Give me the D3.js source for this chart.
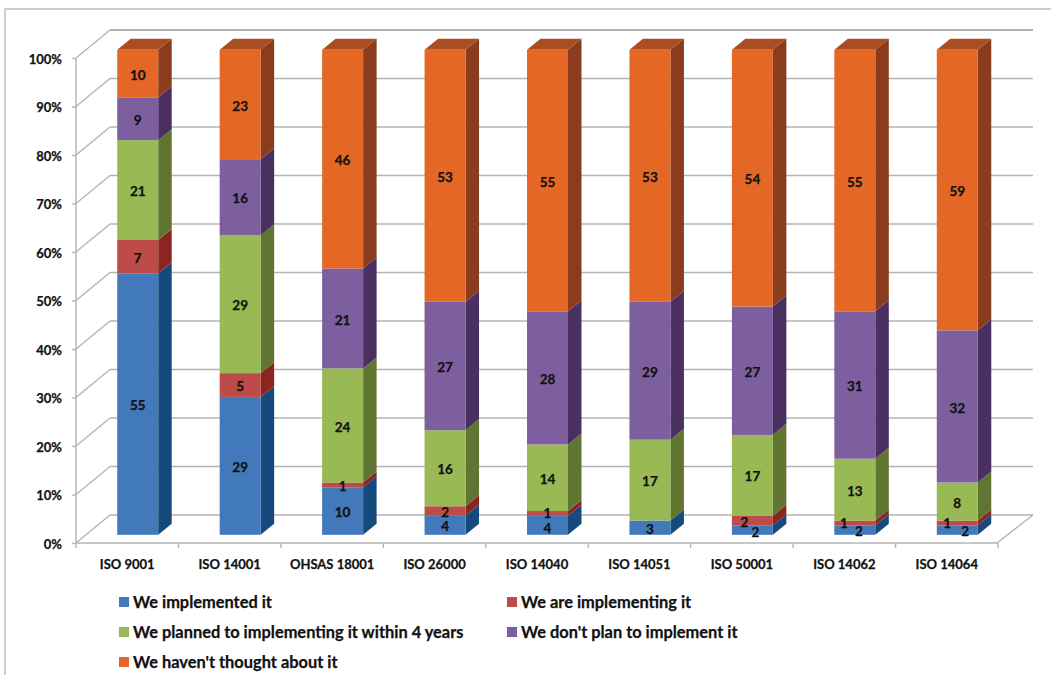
<!DOCTYPE html>
<html>
<head>
<meta charset="utf-8">
<script src="https://cdn.jsdelivr.net/npm/d3@7"></script>
<style>
  html, body { margin: 0; padding: 0; background: #fff; }
  svg { display: block; }
  text { font-family: Lato, "Open Sans", sans-serif; font-weight: 700; fill: #111; stroke: #111; stroke-width: 0.25px; }
</style>
</head>
<body>
<svg id="chart" width="1051" height="675"></svg>
<script>
const categories = ["ISO 9001", "ISO 14001", "OHSAS 18001", "ISO 26000", "ISO 14040", "ISO 14051", "ISO 50001", "ISO 14062", "ISO 14064"];
const seriesNames = ["We implemented it", "We are implementing it", "We planned to implementing it within 4 years", "We don't plan to implement it", "We haven't thought about it"];
const implemented = [55, 29, 10, 4, 4, 3, 2, 2, 2];
const implementing = [7, 5, 1, 2, 1, 0, 2, 1, 1];
const planned = [21, 29, 24, 16, 14, 17, 17, 13, 8];
const noPlan = [9, 16, 21, 27, 28, 29, 27, 31, 32];
const notThought = [10, 23, 46, 53, 55, 53, 54, 55, 59];
const tickValues = [0, .1, .2, .3, .4, .5, .6, .7, .8, .9, 1];

const frontColors = ["#4279bb", "#bd4b48", "#98b954", "#7d5fa0", "#e46725"];
const sideColors = ["#174a7c", "#8c2522", "#5f7530", "#4a3061", "#8a3c1c"];
const topColors = ["#2a5f95", "#a33a37", "#7a9640", "#634a83", "#a94d23"];

const svg = d3.select("#chart");

// Frame around the chart area
svg.append("path")
  .attr("d", "M5,675V9H1051")
  .attr("fill", "none").attr("stroke", "#bdbdbd").attr("stroke-width", 1.5);

const x = d3.scaleBand().domain(categories).range([76, 998]).paddingInner(0.6).paddingOuter(0.3);
const y = d3.scaleLinear().domain([0, 1]).range([543, 58]);

// Oblique projection offsets: full floor depth, and the bar's place and depth within it
const wall = { dx: 34, dy: -28 };
const inset = { dx: 10.5, dy: -8.2 };
const barDepth = { dx: 13.5, dy: -11 };

const gridColor = "#b4b4b4";
const grid = svg.append("g").attr("fill", "none").attr("stroke", gridColor).attr("stroke-width", 1.4);
const floorRight = x.range()[1] - 1;

tickValues.forEach(t => {
  grid.append("line")
    .attr("x1", x.range()[0] + wall.dx).attr("x2", floorRight + 36)
    .attr("y1", y(t) + wall.dy).attr("y2", y(t) + wall.dy)
    .attr("stroke", t === 1 ? "#9a9a9a" : gridColor);
  grid.append("line")
    .attr("x1", x.range()[0]).attr("x2", x.range()[0] + wall.dx)
    .attr("y1", y(t)).attr("y2", y(t) + wall.dy);
});
grid.append("line")
  .attr("x1", floorRight).attr("y1", y(0))
  .attr("x2", floorRight + 36).attr("y2", y(0) + wall.dy);

// Value axis
const yAxis = svg.append("g")
  .attr("transform", `translate(${x.range()[0]},0)`)
  .call(d3.axisLeft(y).tickValues(tickValues).tickFormat(d3.format(".0%")).tickSize(4).tickPadding(10));
yAxis.selectAll("text").style("font-size", "13px").attr("dy", "0.4em");
yAxis.selectAll("line, path").attr("stroke", gridColor).attr("stroke-width", 1.4);
yAxis.select("path").attr("d", `M0,${y(1)}V${y(0)}`);

// Category axis, with separators between the bands instead of centred ticks
const xAxis = svg.append("g")
  .attr("transform", `translate(0,${y(0)})`)
  .call(d3.axisBottom(x).tickSize(0).tickPadding(17));
xAxis.selectAll("text").style("font-size", "13px");
xAxis.select("path").attr("d", `M${x.range()[0]},0H${floorRight}`)
  .attr("stroke", gridColor).attr("stroke-width", 1.4);
d3.range(categories.length + 1).forEach(i => {
  const px = x.range()[0] + i * x.step();
  xAxis.append("line").attr("x1", px).attr("x2", px).attr("y1", 0).attr("y2", 5)
    .attr("stroke", gridColor).attr("stroke-width", 1.4);
});

// Stacked shares of each category's total
const rows = categories.map((c, i) => ({
  category: c,
  [seriesNames[0]]: implemented[i],
  [seriesNames[1]]: implementing[i],
  [seriesNames[2]]: planned[i],
  [seriesNames[3]]: noPlan[i],
  [seriesNames[4]]: notThought[i]
}));
const stacked = d3.stack().keys(seriesNames).offset(d3.stackOffsetExpand)(rows);

const bars = svg.append("g");
stacked.forEach((layer, s) => {
  const g = bars.append("g");
  layer.forEach(d => {
    if (d[1] - d[0] === 0) return;
    const x0 = x(d.data.category) + inset.dx;
    const x1 = x0 + x.bandwidth();
    const yb = y(d[0]) + inset.dy;
    const yt = y(d[1]) + inset.dy;
    g.append("path")
      .attr("d", `M${x1},${yb}L${x1 + barDepth.dx},${yb + barDepth.dy}V${yt + barDepth.dy}L${x1},${yt}Z`)
      .attr("fill", sideColors[s]);
    if (s === stacked.length - 1) {
      g.append("path")
        .attr("d", `M${x0},${yt}L${x0 + barDepth.dx},${yt + barDepth.dy}H${x1 + barDepth.dx}L${x1},${yt}Z`)
        .attr("fill", topColors[s]);
    }
    g.append("rect")
      .attr("x", x0).attr("y", yt)
      .attr("width", x.bandwidth()).attr("height", yb - yt)
      .attr("fill", frontColors[s]);
  });
});

// Hand-placed label shifts for the slivers at the foot of the later bars
const labelShift = {
  "4|We implemented it": [0, 2],
  "4|We are implementing it": [0, -1.5],
  "6|We implemented it": [3, 1],
  "6|We are implementing it": [-8, 0],
  "7|We implemented it": [4, 0],
  "7|We are implementing it": [-11, -1],
  "8|We implemented it": [8, 0],
  "8|We are implementing it": [-10, -1]
};
const labels = svg.append("g").attr("text-anchor", "middle").style("font-size", "13.5px");
stacked.forEach(layer => {
  layer.forEach((d, i) => {
    const v = d.data[layer.key];
    if (!v) return;
    const shift = labelShift[`${i}|${layer.key}`] || [0, 0];
    labels.append("text")
      .attr("x", x(d.data.category) + inset.dx + x.bandwidth() / 2 + shift[0])
      .attr("y", y((d[0] + d[1]) / 2) + inset.dy + shift[1] + 0.7)
      .attr("dy", "0.4em")
      .text(v);
  });
});

// Legend, two columns filled row by row
const legendX = d3.scalePoint().domain([0, 1]).range([119, 507]);
const legendY = d3.scalePoint().domain([0, 1, 2]).range([602, 662]);
const legend = svg.append("g");
seriesNames.forEach((name, i) => {
  const lx = legendX(i % 2);
  const ly = legendY(Math.floor(i / 2));
  legend.append("rect").attr("x", lx).attr("y", ly - 5).attr("width", 10).attr("height", 10)
    .attr("fill", frontColors[i]);
  legend.append("text").attr("x", lx + 14).attr("y", ly).attr("dy", "0.36em")
    .style("font-size", "16.4px").text(name);
});
</script>
</body>
</html>
